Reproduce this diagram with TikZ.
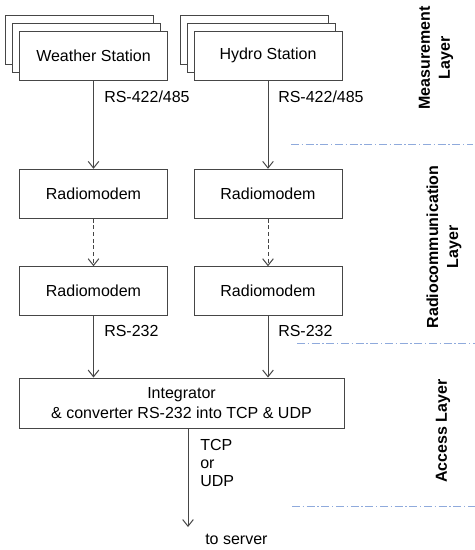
\documentclass[tikz,border=0pt]{standalone}
\usepackage{fontspec}
\setmainfont{Liberation Sans}
\usetikzlibrary{arrows.meta}
\definecolor{edgegray}{RGB}{70,70,70}
\definecolor{layerblue}{RGB}{143,170,220}

\begin{document}
\begin{tikzpicture}[x=0.75pt,y=-0.75pt,
  font=\fontsize{12}{14}\selectfont,
  unit/.style={draw=edgegray, fill=white, rectangle, line width=0.75pt, minimum width=111pt, minimum height=36.75pt, inner sep=0pt},
  link/.style={-{Straight Barb[length=5pt,width=8pt]}, edgegray, line width=0.75pt},
  iface/.style={anchor=west, inner sep=0pt, align=left},
  layer_sep/.style={layerblue, line width=0.75pt, dash pattern=on 6pt off 2pt on 1pt off 2pt},
  layer_name/.style={rotate=90, align=center, font=\fontsize{12}{15}\selectfont\bfseries}]
        \useasboundingbox (0,0) rectangle (475,550);

        % stations
        \node[unit] (weather_back2) at (79.5,39.5) {};
        \node[unit] (weather_back1) at (86.5,47.5) {};
        \node[unit] (weather_station) at (93.5,55.5) {Weather Station};

        \node[unit] (hydro_back2) at (254,39.5) {};
        \node[unit] (hydro_back1) at (261,47.5) {};
        \node[unit] (hydro_station) at (268,55.5) {Hydro Station};

        % radiomodems
        \node[unit] (radio_left1) at (93.5,193.8) {Radiomodem};
        \node[unit] (radio_right1) at (268,193.8) {Radiomodem};
        \node[unit] (radio_left2) at (93.5,291.2) {Radiomodem};
        \node[unit] (radio_right2) at (268,291.2) {Radiomodem};

        % integrator
        \node[unit, minimum width=243.75pt, minimum height=37.5pt, align=center] (integrator) at (181.5,403) {Integrator\\[1pt]\& converter RS-232 into TCP \& UDP};
        \coordinate (server) at (188,527);

        % interface labels
        \node[iface] (rs_left_top) at (104,97) {RS-422/485};
        \node[iface] (rs_right_top) at (278,97) {RS-422/485};
        \node[iface] (rs_left_bottom) at (104,331) {RS-232};
        \node[iface] (rs_right_bottom) at (278,331) {RS-232};
        \node[iface, font=\fontsize{12}{13.5}\selectfont] (proto) at (200,463) {TCP\\or\\UDP};
        \node[iface] (to_server) at (205,539) {to server};

        % links
        \draw[link] (weather_station) -- (radio_left1);
        \draw[link] (hydro_station) -- (radio_right1);
        \draw[link, dash pattern=on 3pt off 2pt] (radio_left1) -- (radio_left2);
        \draw[link, dash pattern=on 3pt off 2pt] (radio_right1) -- (radio_right2);
        \draw[link] (radio_left2.south) -- (radio_left2.south |- integrator.north);
        \draw[link] (radio_right2.south) -- (radio_right2.south |- integrator.north);
        \draw[link] (integrator.south -| server) -- (server);

        % layers
        \draw[layer_sep] (291,144) -- (473,144);
        \draw[layer_sep] (297,343) -- (475,343);
        \draw[layer_sep] (292,506) -- (475,506);

        \node[layer_name] (measure_layer) at (436,58) {Measurement\\Layer};
        \node[layer_name] (radio_layer) at (444,247) {Radiocommunication\\Layer};
        \node[layer_name] (access_layer) at (443,431) {Access Layer};
\end{tikzpicture}
\end{document}
